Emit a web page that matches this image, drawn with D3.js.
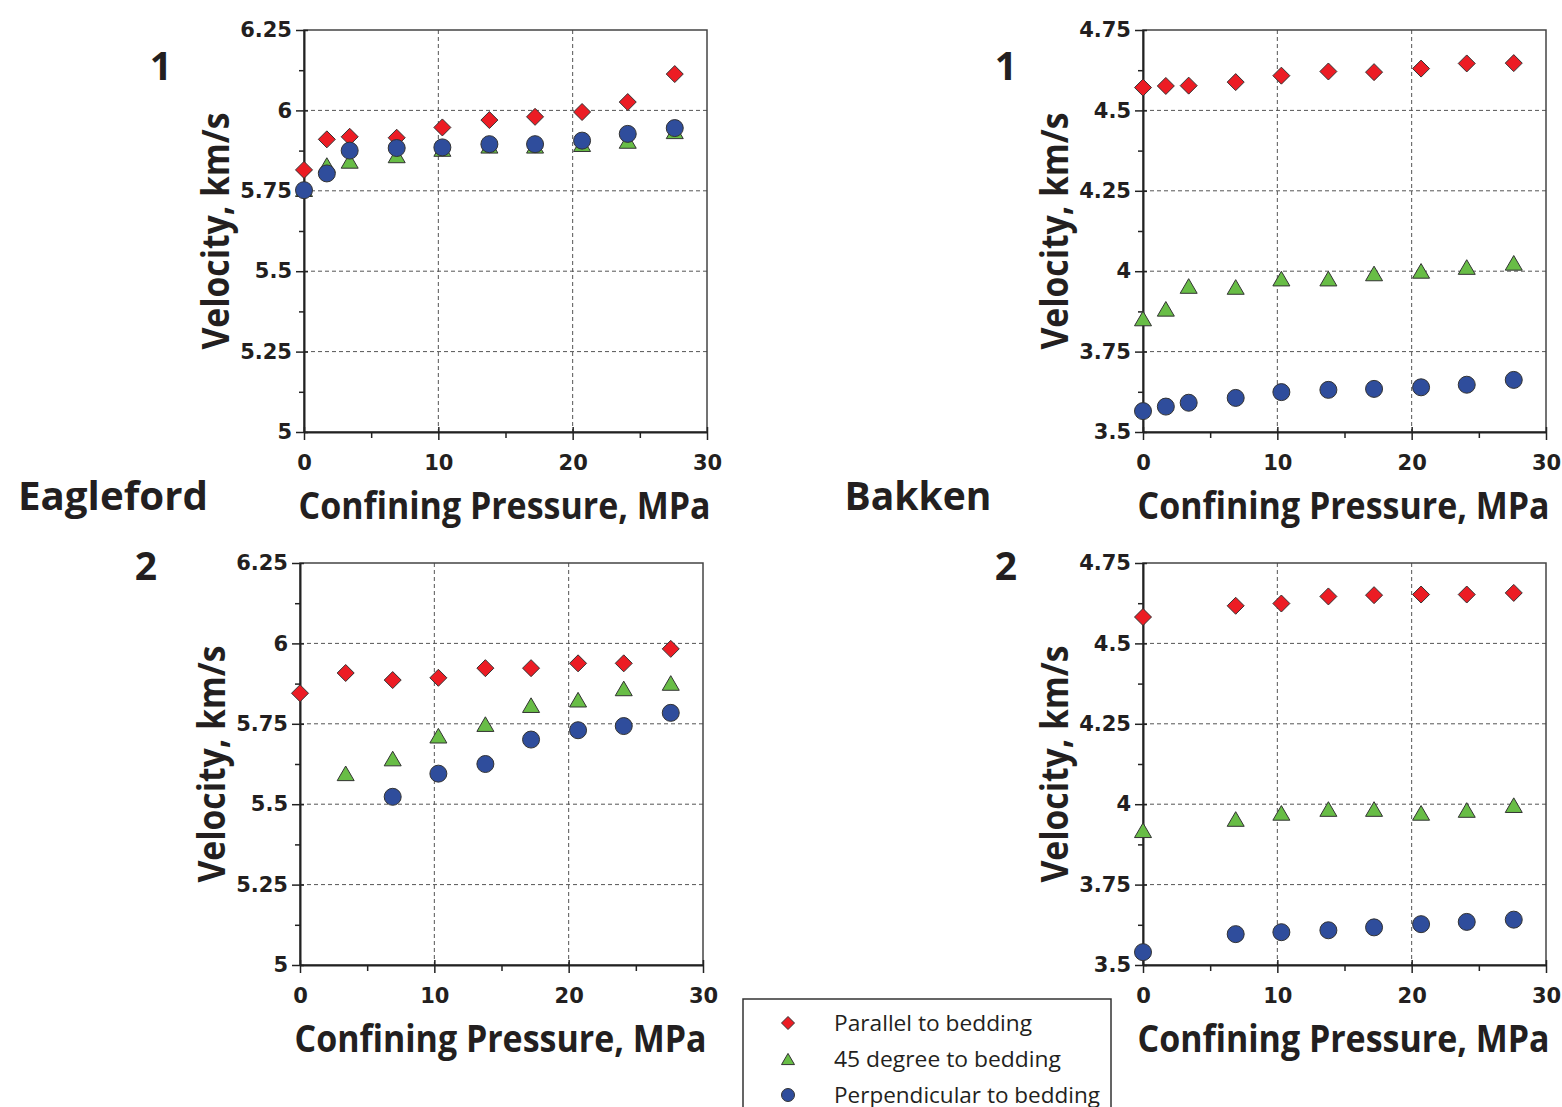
<!DOCTYPE html>
<html>
<head>
<meta charset="utf-8">
<script src="https://cdn.jsdelivr.net/npm/d3@7"></script>
<style>
  body { margin: 0; background: #fff; }
  svg { display: block; }
</style>
</head>
<body>
<script>
// pressure steps (MPa) used by the different samples
const pressureFull = [0, 1.7, 3.4, 6.9, 10.3, 13.8, 17.2, 20.7, 24.1, 27.6];
const pressureEf2 = [0, 3.4, 6.9, 10.3, 13.8, 17.2, 20.7, 24.1, 27.6];
const pressureBk2 = [0, 6.9, 10.3, 13.8, 17.2, 20.7, 24.1, 27.6];

// Eagleford 1
const ef1Parallel = [5.815, 5.91, 5.918, 5.915, 5.947, 5.97, 5.98, 5.995, 6.026, 6.113];
const ef1Deg45 = [5.755, 5.83, 5.843, 5.86, 5.88, 5.89, 5.89, 5.895, 5.905, 5.935];
const ef1Perp = [5.752, 5.804, 5.875, 5.883, 5.885, 5.895, 5.895, 5.906, 5.927, 5.945];

// Eagleford 2 (null = no reading)
const ef2Parallel = [5.845, 5.908, 5.886, 5.893, 5.923, 5.923, 5.938, 5.938, 5.983];
const ef2Deg45 = [null, 5.596, 5.642, 5.713, 5.749, 5.808, 5.825, 5.86, 5.877];
const ef2Perp = [null, null, 5.523, 5.595, 5.625, 5.701, 5.73, 5.743, 5.784];

// Bakken 1
const bk1Parallel = [4.571, 4.576, 4.577, 4.588, 4.608, 4.621, 4.619, 4.63, 4.646, 4.647];
const bk1Deg45 = [3.853, 3.883, 3.954, 3.951, 3.977, 3.977, 3.993, 4.001, 4.013, 4.026];
const bk1Perp = [3.565, 3.579, 3.591, 3.606, 3.624, 3.631, 3.634, 3.639, 3.647, 3.662];

// Bakken 2
const bk2Parallel = [4.582, 4.617, 4.624, 4.646, 4.65, 4.652, 4.652, 4.657];
const bk2Deg45 = [3.919, 3.954, 3.973, 3.985, 3.985, 3.973, 3.982, 3.997];
const bk2Perp = [3.54, 3.596, 3.602, 3.608, 3.617, 3.627, 3.634, 3.641];

// ticks
const xMajor = [0, 10, 20, 30];
const xMinor = [5, 15, 25];
const efYMajor = [5, 5.25, 5.5, 5.75, 6, 6.25];
const efYMinor = [5.125, 5.375, 5.625, 5.875, 6.125];
const bkYMajor = [3.5, 3.75, 4, 4.25, 4.5, 4.75];
const bkYMinor = [3.625, 3.875, 4.125, 4.375, 4.625];

const seriesNames = ["Parallel to bedding", "45 degree to bedding", "Perpendicular to bedding"];
const seriesColors = ["#ec1c24", "#68bd46", "#2f4d9c"];
const seriesShapes = ["diamond", "triangle", "circle"];

const ink = "#231f20";

const svg = d3.select("body").append("svg")
  .attr("width", 1562)
  .attr("height", 1107);

// marker path generator, r ~ half width
function markerPath(shape, r) {
  const p = d3.path();
  if (shape == "diamond") {
    p.moveTo(0, -r); p.lineTo(r, 0); p.lineTo(0, r); p.lineTo(-r, 0); p.closePath();
  } else if (shape == "triangle") {
    const h = r * 1.72;
    p.moveTo(0, -h / 2); p.lineTo(r, h / 2); p.lineTo(-r, h / 2); p.closePath();
  } else {
    p.moveTo(r, 0); p.arc(0, 0, r, 0, 2 * Math.PI);
  }
  return p.toString();
}

function fit(sel, w) {
  sel.attr("textLength", w).attr("lengthAdjust", "spacingAndGlyphs");
}

const panels = [
  {left: 304, right: 707, top: 30, bottom: 432, yMajor: efYMajor, yMinor: efYMinor,
   x: pressureFull, series: [ef1Parallel, ef1Deg45, ef1Perp]},
  {left: 300, right: 703, top: 563, bottom: 965, yMajor: efYMajor, yMinor: efYMinor,
   x: pressureEf2, series: [ef2Parallel, ef2Deg45, ef2Perp]},
  {left: 1143, right: 1546, top: 30, bottom: 432, yMajor: bkYMajor, yMinor: bkYMinor,
   x: pressureFull, series: [bk1Parallel, bk1Deg45, bk1Perp]},
  {left: 1143, right: 1546, top: 563, bottom: 965, yMajor: bkYMajor, yMinor: bkYMinor,
   x: pressureBk2, series: [bk2Parallel, bk2Deg45, bk2Perp]}
];

panels.forEach(function(p) {
  const x = d3.scaleLinear().domain([0, 30]).range([p.left, p.right]);
  const y = d3.scaleLinear()
    .domain([p.yMajor[0], p.yMajor[p.yMajor.length - 1]])
    .range([p.bottom, p.top]);

  const g = svg.append("g");

  // dashed grid
  g.append("g").selectAll("line.h")
    .data(p.yMajor.slice(1, -1))
    .enter().append("line")
    .attr("x1", p.left).attr("x2", p.right)
    .attr("y1", d => y(d)).attr("y2", d => y(d))
    .attr("stroke", "#555").attr("stroke-width", 1)
    .attr("stroke-dasharray", "4,3");
  g.append("g").selectAll("line.v")
    .data([10, 20])
    .enter().append("line")
    .attr("y1", p.top).attr("y2", p.bottom)
    .attr("x1", d => x(d)).attr("x2", d => x(d))
    .attr("stroke", "#555").attr("stroke-width", 1)
    .attr("stroke-dasharray", "4,3");

  // frame
  g.append("rect")
    .attr("x", p.left).attr("y", p.top)
    .attr("width", p.right - p.left).attr("height", p.bottom - p.top)
    .attr("fill", "none").attr("stroke", "#444").attr("stroke-width", 1.5);

  // x axis
  const xAxis = g.append("g")
    .attr("transform", `translate(0, ${p.bottom})`)
    .call(d3.axisBottom(x).tickValues(xMajor).tickSizeOuter(0).tickFormat(d => d));
  xAxis.select(".domain").attr("stroke", "#222").attr("stroke-width", 2);
  xAxis.selectAll(".tick line").attr("y1", -5).attr("y2", 8).attr("stroke", "#222").attr("stroke-width", 1.5);
  xAxis.selectAll(".tick text")
    .attr("y", 23)
    .attr("fill", ink)
    .style("font-family", "'DejaVu Sans'")
    .style("font-weight", "bold")
    .style("font-size", "21px");
  g.append("g")
    .attr("transform", `translate(0, ${p.bottom})`)
    .call(d3.axisBottom(x).tickValues(xMinor).tickSize(6).tickSizeOuter(0).tickFormat(""))
    .call(a => a.select(".domain").remove())
    .selectAll(".tick line").attr("stroke", "#222").attr("stroke-width", 1.5);

  // y axis
  const yAxis = g.append("g")
    .attr("transform", `translate(${p.left}, 0)`)
    .call(d3.axisLeft(y).tickValues(p.yMajor).tickSizeOuter(0).tickFormat(d => d));
  yAxis.select(".domain").attr("stroke", "#222").attr("stroke-width", 2);
  yAxis.selectAll(".tick line").attr("x1", -8).attr("x2", 4).attr("stroke", "#222").attr("stroke-width", 1.5);
  yAxis.selectAll(".tick text")
    .attr("x", -12)
    .attr("fill", ink)
    .style("font-family", "'DejaVu Sans'")
    .style("font-weight", "bold")
    .style("font-size", "21px");
  g.append("g")
    .attr("transform", `translate(${p.left}, 0)`)
    .call(d3.axisLeft(y).tickValues(p.yMinor).tickSize(5).tickSizeOuter(0).tickFormat(""))
    .call(a => a.select(".domain").remove())
    .selectAll(".tick line").attr("stroke", "#222").attr("stroke-width", 1.5);

  // axis titles
  g.append("text")
    .text("Confining Pressure, MPa")
    .attr("x", (p.left + p.right) / 2 - 1)
    .attr("y", p.bottom + 87)
    .attr("text-anchor", "middle")
    .attr("fill", ink)
    .style("font-family", "'Open Sans'")
    .style("font-weight", "bold")
    .style("font-size", "38px")
    .call(fit, 412);
  g.append("text")
    .text("Velocity, km/s")
    .attr("transform", `translate(${p.left - 75}, ${(p.top + p.bottom) / 2}) rotate(-90)`)
    .attr("text-anchor", "middle")
    .attr("fill", ink)
    .style("font-family", "'Open Sans'")
    .style("font-weight", "bold")
    .style("font-size", "38px")
    .call(fit, 237);

  // markers, drawn parallel -> 45 -> perpendicular
  p.series.forEach(function(vals, si) {
    const pts = vals.map((v, i) => ({p: p.x[i], v: v})).filter(d => d.v != null);
    g.append("g").selectAll("path")
      .data(pts)
      .enter().append("path")
      .attr("d", markerPath(seriesShapes[si], 8.5))
      .attr("transform", d => `translate(${x(d.p)}, ${y(d.v)})`)
      .attr("fill", seriesColors[si])
      .attr("stroke", "#333")
      .attr("stroke-width", 1);
  });
});

// panel numbers and formation names
const bigText = [
  {t: "1", x: 161, y: 80, w: null},
  {t: "2", x: 146, y: 580, w: null},
  {t: "1", x: 1006, y: 80, w: null},
  {t: "2", x: 1006, y: 580, w: null},
  {t: "Eagleford", x: 113, y: 510, w: 190},
  {t: "Bakken", x: 918, y: 510, w: 147}
];
svg.append("g").selectAll("text")
  .data(bigText)
  .enter().append("text")
  .text(d => d.t)
  .attr("x", d => d.x)
  .attr("y", d => d.y)
  .attr("text-anchor", "middle")
  .attr("fill", ink)
  .style("font-family", "'Open Sans'")
  .style("font-weight", "bold")
  .style("font-size", "39px")
  .each(function(d) { if (d.w) d3.select(this).call(fit, d.w); });

// legend
const legend = svg.append("g").attr("id", "legend");
legend.append("rect")
  .attr("x", 743).attr("y", 999)
  .attr("width", 368).attr("height", 140)
  .attr("fill", "#fff").attr("stroke", "#333").attr("stroke-width", 1.5);
const legendWidths = [198, 227, 266];
seriesNames.forEach(function(name, i) {
  const cy = 1023 + i * 36;
  legend.append("path")
    .attr("d", markerPath(seriesShapes[i], 6.5))
    .attr("transform", `translate(788, ${cy})`)
    .attr("fill", seriesColors[i])
    .attr("stroke", "#333")
    .attr("stroke-width", 1);
  legend.append("text")
    .text(name)
    .attr("x", 834)
    .attr("y", cy + 8)
    .attr("fill", ink)
    .style("font-family", "'Open Sans'")
    .style("font-size", "22px")
    .call(fit, legendWidths[i]);
});
</script>
</body>
</html>
